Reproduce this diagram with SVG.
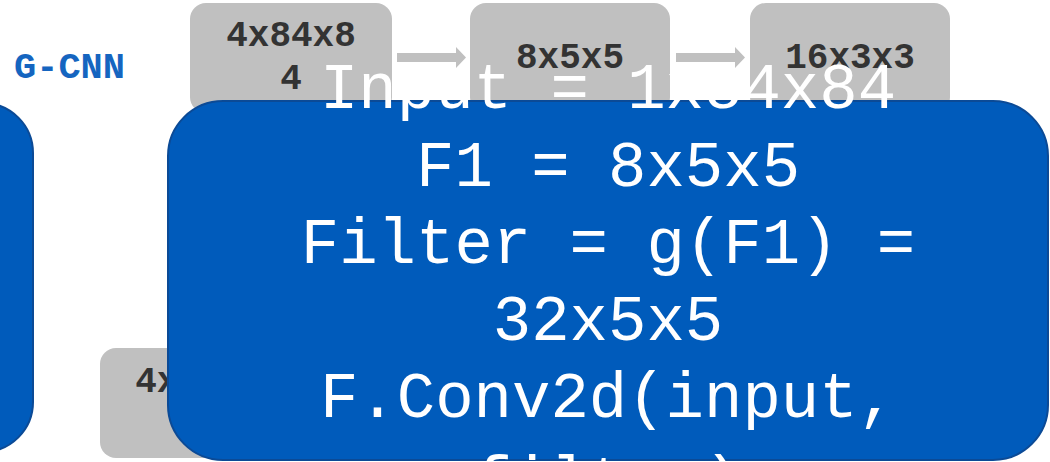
<svg xmlns="http://www.w3.org/2000/svg" width="1050" height="462" viewBox="0 0 1050 462">
<style>
.blue{fill:#005BBB;stroke:#0B4A96;stroke-width:2}
.gray{fill:#C0C0C0}
.gt{font-family:"Liberation Mono","Courier New",monospace;font-weight:bold;font-size:36px;fill:#333333;text-anchor:middle}
.wt{font-family:"Liberation Mono","Courier New",monospace;font-size:64px;fill:#FFFFFF;text-anchor:middle}
.lbl{font-family:"Liberation Mono","Courier New",monospace;font-weight:bold;font-size:37px;fill:#1565C0}
.arr{fill:#C0C0C0}
</style>
<rect width="1050" height="462" fill="#FFFFFF"/>
<g id="left-node">
<rect class="blue" x="-80" y="103" width="113" height="349" rx="50"/>
</g>
<g id="title">
<text class="lbl" x="14" y="78">G-CNN</text>
</g>
<g id="node-4x84x84">
<rect class="gray" x="190" y="3" width="202" height="110" rx="16"/>
<text class="gt" x="291" y="46">4x84x8</text>
<text class="gt" x="291" y="89">4</text>
</g>
<g id="node-8x5x5">
<rect class="gray" x="470" y="3" width="200" height="110" rx="16"/>
<text class="gt" x="570" y="68">8x5x5</text>
</g>
<g id="node-16x3x3">
<rect class="gray" x="750" y="3" width="200" height="110" rx="16"/>
<text class="gt" x="850" y="68">16x3x3</text>
</g>
<g id="node-bottom">
<rect class="gray" x="100" y="348" width="200" height="110" rx="16"/>
<text class="gt" x="200" y="392">4x84x8</text>
</g>
<g id="connectors">
<polygon class="arr" points="397,53 456,53 456,47 466,57.5 456,68 456,62 397,62"/>
<polygon class="arr" points="676,53 735,53 735,47 745,57.5 735,68 735,62 676,62"/>
</g>
<g id="node-main">
<rect class="blue" x="168" y="101" width="880" height="359" rx="55"/>
<text class="wt" x="608" y="108">Input = 1x84x84</text>
<text class="wt" x="608" y="186">F1 = 8x5x5</text>
<text class="wt" x="608" y="263">Filter = g(F1) =</text>
<text class="wt" x="608" y="340">32x5x5</text>
<text class="wt" x="608" y="417">F.Conv2d(input,</text>
<text class="wt" x="608" y="501">filter)</text>
</g>
</svg>
